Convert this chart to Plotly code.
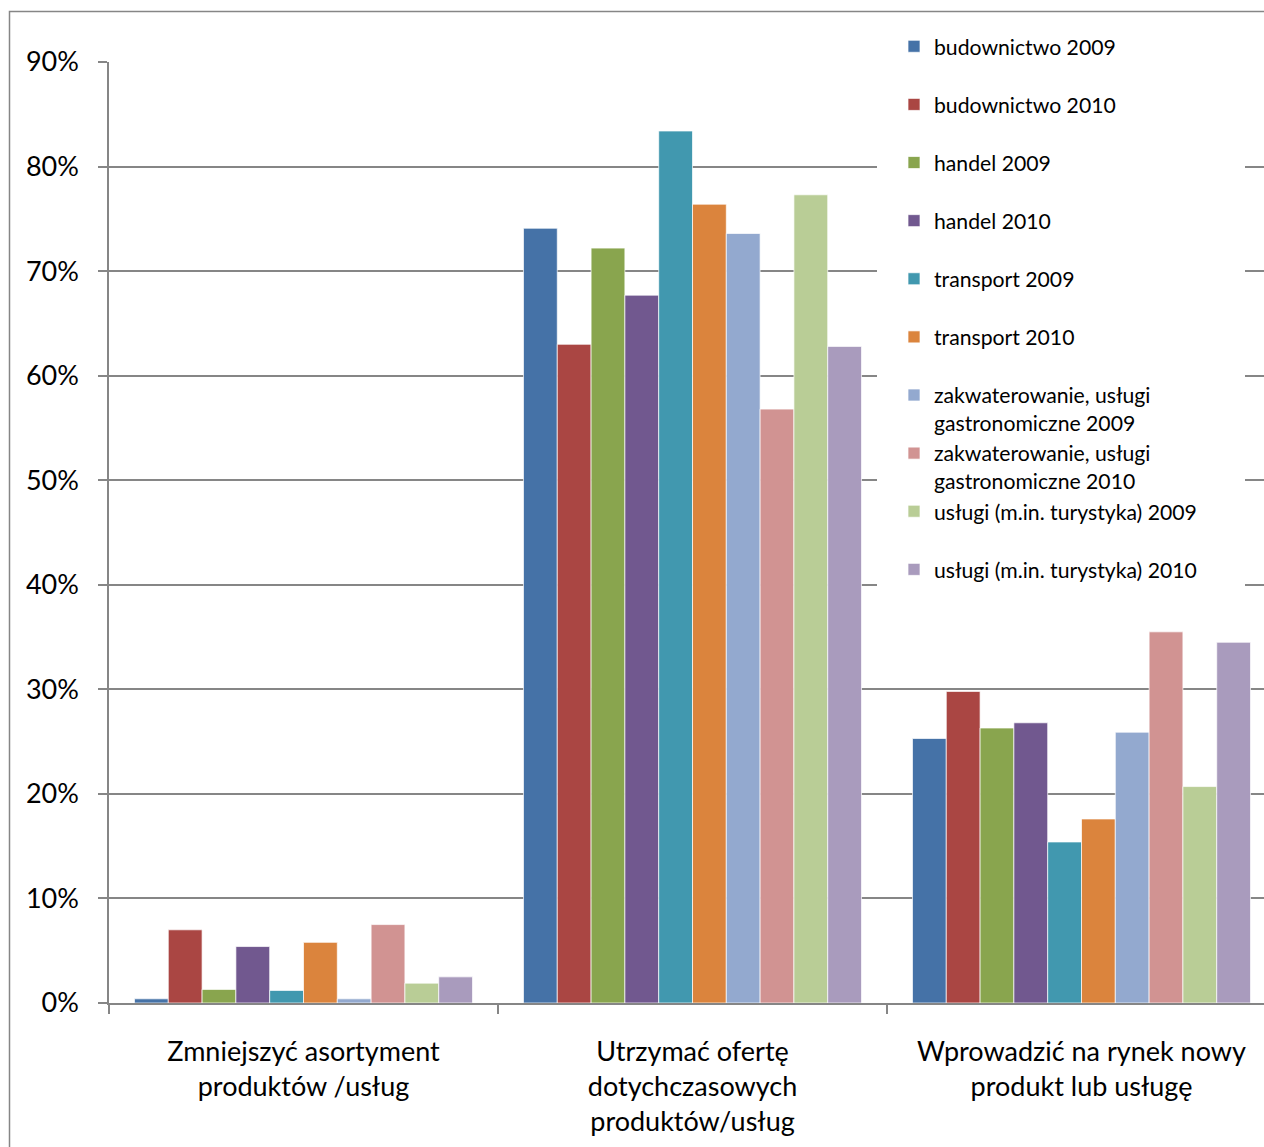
import plotly.graph_objects as go

categories = [
    "Zmniejszyć asortyment<br>produktów /usług",
    "Utrzymać ofertę<br>dotychczasowych<br>produktów/usług",
    "Wprowadzić na rynek nowy<br>produkt lub usługę",
]

series_names = [
    "budownictwo 2009",
    "budownictwo 2010",
    "handel 2009",
    "handel 2010",
    "transport 2009",
    "transport 2010",
    "zakwaterowanie, usługi<br>gastronomiczne 2009",
    "zakwaterowanie, usługi<br>gastronomiczne 2010",
    "usługi (m.in. turystyka) 2009",
    "usługi (m.in. turystyka) 2010",
]

budownictwo_2009 = [0.004, 0.741, 0.253]
budownictwo_2010 = [0.070, 0.630, 0.298]
handel_2009 = [0.013, 0.722, 0.263]
handel_2010 = [0.054, 0.677, 0.268]
transport_2009 = [0.012, 0.834, 0.154]
transport_2010 = [0.058, 0.764, 0.176]
zakwaterowanie_2009 = [0.004, 0.736, 0.259]
zakwaterowanie_2010 = [0.075, 0.568, 0.355]
uslugi_2009 = [0.019, 0.773, 0.207]
uslugi_2010 = [0.025, 0.628, 0.345]

series_values = [
    budownictwo_2009, budownictwo_2010, handel_2009, handel_2010,
    transport_2009, transport_2010, zakwaterowanie_2009, zakwaterowanie_2010,
    uslugi_2009, uslugi_2010,
]

colors = ["#4572A7", "#AA4643", "#89A54E", "#71588F", "#4198AF",
          "#DB843D", "#93A9CF", "#D19392", "#B9CD96", "#A99BBD"]

FONT = "Lato"
W, H = 1264, 1147
L, T, B, R = 109, 62, 144, 0
pw, ph = W - L - R, H - T - B

def px_x(p):
    return (p - L) / pw

def px_y(p):
    return (H - B - p) / ph

fig = go.Figure()
for name, vals, col in zip(series_names, series_values, colors):
    label = name if "<br>" in name else name + "<br>\u00a0"
    fig.add_trace(go.Bar(
        x=categories, y=vals, name=label,
        marker=dict(color=col, line=dict(color="rgba(255,255,255,0.7)", width=1)),
    ))

# white area behind legend (hides gridlines like the original)
fig.add_shape(type="rect", xref="paper", yref="paper",
              x0=px_x(877), x1=px_x(1245), y0=px_y(592), y1=px_y(28),
              fillcolor="white", line=dict(width=0), layer="above")
# outer chart frame
fig.add_shape(type="rect", xref="paper", yref="paper",
              x0=px_x(9.5), x1=px_x(1400), y0=px_y(1300), y1=px_y(11.5),
              fillcolor="rgba(0,0,0,0)", line=dict(color="#868686", width=1.5),
              layer="above")

span = 2.5 - 12 / 389
fig.update_layout(
    width=W, height=H,
    margin=dict(l=L, r=R, t=T, b=B, pad=0),
    paper_bgcolor="white", plot_bgcolor="white",
    barmode="group", bargap=0.131, bargroupgap=0,
    font=dict(family=FONT, color="#000000"),
    showlegend=True,
    legend=dict(
        x=px_x(894), y=px_y(26), xanchor="left", yanchor="top",
        bgcolor="rgba(0,0,0,0)", borderwidth=0,
        font=dict(family=FONT, size=21.2, color="#000000"),
        valign="top", traceorder="normal", tracegroupgap=0,
        maxheight=900,
    ),
    xaxis=dict(
        type="category", range=[-0.5, span], showgrid=False,
        showline=True, linecolor="#868686", linewidth=1.5,
        ticks="outside", tickson="boundaries", ticklen=9,
        tickcolor="#868686", tickwidth=1.5,
        tickfont=dict(family=FONT, size=27, color="#000000"),
        ticklabelstandoff=24,
    ),
    yaxis=dict(
        range=[0, 0.9], dtick=0.1, tickformat=".0%",
        showgrid=True, gridcolor="#868686", gridwidth=1.5,
        showline=True, linecolor="#868686", linewidth=1.5,
        ticks="outside", ticklen=9, tickcolor="#868686", tickwidth=1.5,
        tickfont=dict(family=FONT, size=27, color="#000000"),
        ticklabelstandoff=14, zeroline=False,
    ),
)

fig.write_html("out.html")
